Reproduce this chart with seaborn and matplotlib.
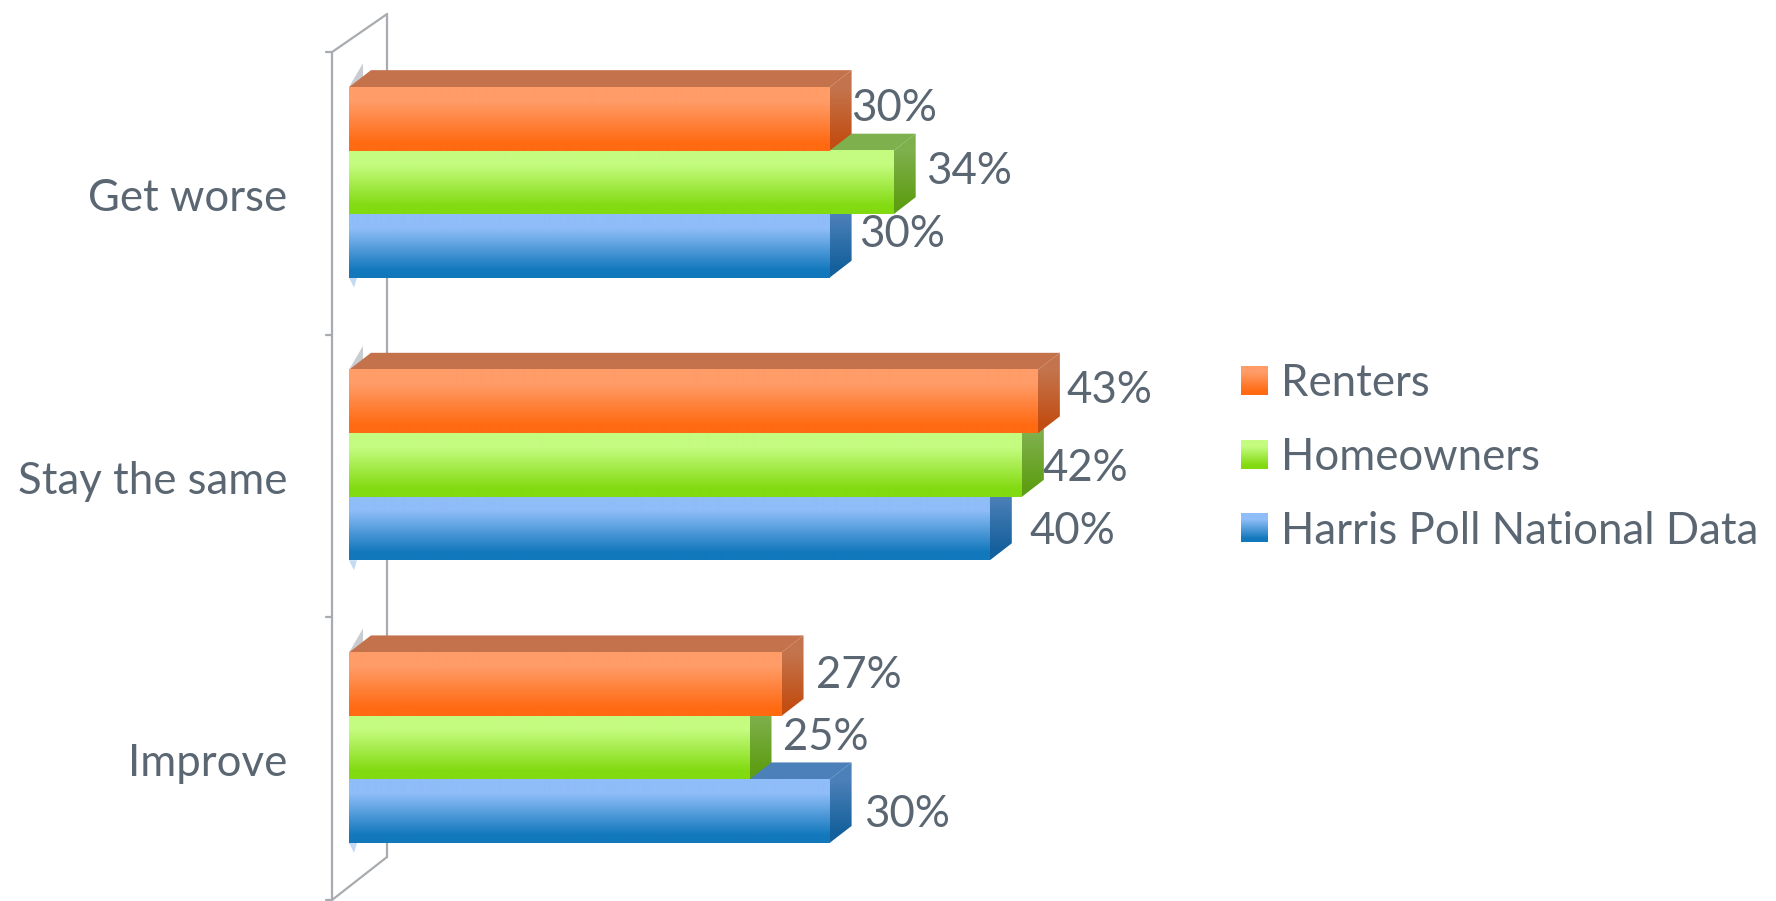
import matplotlib
matplotlib.use("Agg")
import numpy as np
import pandas as pd
import seaborn as sns
import matplotlib.pyplot as plt
from matplotlib.patches import Polygon
from matplotlib.lines import Line2D
from matplotlib.colors import LinearSegmentedColormap
from matplotlib.transforms import IdentityTransform, ScaledTranslation

categories = ["Get worse", "Stay the same", "Improve"]
series = ["Renters", "Homeowners", "Harris Poll National Data"]
renters = [30, 43, 27]
homeowners = [34, 42, 25]
harris = [30, 40, 30]

# styling
front_grad = {"Renters": ("#FF9C68", "#FF6A12"),
              "Homeowners": ("#C4FC80", "#82DA10"),
              "Harris Poll National Data": ("#8FBDF8", "#1278BC")}
side_grad = {"Renters": ("#C4744C", "#C24E14"),
             "Homeowners": ("#7EB04C", "#5F9E14"),
             "Harris Poll National Data": ("#4C80B8", "#14609C")}
top_col = {"Renters": "#C4724C", "Homeowners": "#7FB04E", "Harris Poll National Data": "#4C80BA"}
# label offsets from bar end / bar centre in pixels, per series then category
lab_dx = {"Renters": [21, 29, 34], "Homeowners": [32, 21, 33], "Harris Poll National Data": [29, 40, 34]}
lab_dy = {"Renters": [10, 11, 9], "Homeowners": [11, -3, 10], "Harris Poll National Data": [11, -3, -3]}
TXT = "#5A6672"
FS = 31.5
FONT = "Lato"
DX, DY = 22, 17

W, H = 1776, 901
sns.set_theme(style="white")
plt.rcParams["font.family"] = [FONT, "DejaVu Sans"]

fig = plt.figure(figsize=(W / 100, H / 100), dpi=100, facecolor="white")
ax_left, ax_right = 349, 1150
ax_top, ax_bottom = 41.1, 889.0
ax = fig.add_axes([ax_left / W, 1 - ax_bottom / H, (ax_right - ax_left) / W, (ax_bottom - ax_top) / H])

df = pd.DataFrame({
    "outlook": categories * 3,
    "group": sum([[s] * 3 for s in series], []),
    "pct": renters + homeowners + harris,
})
palette = {s: front_grad[s][1] for s in series}
sns.barplot(data=df, y="outlook", x="pct", hue="group", order=categories, hue_order=series,
            palette=palette, width=0.674, orient="h", saturation=1, ax=ax)
xlim = (0, 50)
ylim = (2.5, -0.5)
ax.set_xlim(*xlim)
ax.set_ylim(*ylim)
ax.set_xlabel("")
ax.set_ylabel("")
ax.set_xticks([])
for sp in ax.spines.values():
    sp.set_visible(False)
ax.patch.set_alpha(0)


def grad_cmap(c):
    return LinearSegmentedColormap.from_list("g", [(0, c[0]), (0.22, c[0]), (0.88, c[1]), (1, c[1])])


GRAD = np.linspace(0, 1, 128).reshape(-1, 1)
ident = IdentityTransform()


def paint(cmap, box, z, clip=None):
    im = ax.imshow(GRAD, cmap=cmap, extent=box, origin="upper", aspect="auto",
                   transform=ident, zorder=z, interpolation="bilinear")
    if clip is not None:
        im.set_clip_path(clip)
    return im


order_z = {"Harris Poll National Data": 3, "Homeowners": 4, "Renters": 5}
for cont, s in zip(ax.containers, series):
    z = order_z[s]
    for i, bar in enumerate(cont):
        (x0, y0), (x1, y1) = ax.transData.transform(
            [(bar.get_x(), bar.get_y() + bar.get_height()), (bar.get_x() + bar.get_width(), bar.get_y())])
        bar.set_zorder(z + 0.3)
        bar.set_edgecolor("none")
        bar.set_linewidth(0)
        top = Polygon([(x0, y1), (x0 + DX, y1 + DY), (x1 + DX, y1 + DY), (x1, y1)],
                      closed=True, fc=top_col[s], ec="none", transform=ident, zorder=z)
        ax.add_patch(top)
        side = Polygon([(x1, y1), (x1 + DX, y1 + DY), (x1 + DX, y0 + DY), (x1, y0)],
                       closed=True, fc="none", ec="none", transform=ident, zorder=z)
        ax.add_patch(side)
        paint(grad_cmap(side_grad[s]), (x1, x1 + DX, y0, y1 + DY), z + 0.1, side)
        paint(grad_cmap(front_grad[s]), (x0, x1, y0, y1), z + 0.5)
        ax.text(x1 + lab_dx[s][i], (y0 + y1) / 2 + lab_dy[s][i], f"{int(bar.get_width())}%",
                transform=ident, ha="left", va="center", fontsize=FS, color=TXT, zorder=9)
ax.set_xlim(*xlim)
ax.set_ylim(*ylim)

# chart wall: front edge, back edge, top and floor, derived from the category axis
WALL = "#A8ACB0"
px_front = ax_left - 17
px_back = ax_left + 38
off = 11
edges = ax.transData.transform([(0, v) for v in (-0.5, 0.5, 1.5, 2.5)])[:, 1] - off
yt, yb = edges[0], edges[-1]
for seg in ([(px_front, px_front), (yb, yt)],
            [(px_back, px_back), (yb + 43, yt + 38)],
            [(px_front, px_back), (yt, yt + 38)],
            [(px_front, px_back), (yb, yb + 43)]):
    fig.add_artist(Line2D(seg[0], seg[1], color=WALL, lw=1.6, transform=ident, zorder=0))
for y in edges:
    fig.add_artist(Line2D([px_front - 6, px_front], [y, y], color=WALL, lw=1.6, transform=ident, zorder=0))

# small wedges where the bars meet the wall
for i in range(3):
    c = ax.containers[0][i]
    d = ax.containers[2][i]
    x0, ytop = ax.transData.transform((0, c.get_y()))
    _, ybot = ax.transData.transform((0, d.get_y() + d.get_height()))
    ax.add_patch(Polygon([(x0, ytop), (x0 + 14, ytop + 24), (x0 + 14, ytop + 5)], closed=True,
                         fc="#C9CDD2", ec="none", transform=ident, zorder=2))
    ax.add_patch(Polygon([(x0, ybot), (x0 + 8, ybot), (x0 + 5, ybot - 10)], closed=True,
                         fc="#C4DAF2", ec="none", transform=ident, zorder=2))

# category labels
ax.tick_params(axis="y", length=0, pad=44.6, labelsize=FS, labelcolor=TXT)
shift = ScaledTranslation(0, -12 / 100, fig.dpi_scale_trans)
for t in ax.get_yticklabels():
    t.set_transform(t.get_transform() + shift)

# legend
handles, labels = ax.get_legend_handles_labels()
fs_px = FS * 100 / 72
leg = ax.legend(handles, labels, loc="upper left", bbox_to_anchor=(1241 / W, 1 - 363 / H),
                bbox_transform=fig.transFigure, frameon=False, fontsize=FS, labelcolor=TXT,
                handlelength=27 / fs_px, handleheight=27 / fs_px, handletextpad=13 / fs_px,
                labelspacing=0.75, borderpad=0, borderaxespad=0)
fig.canvas.draw()
for p, s in zip(leg.get_patches(), series):
    p.set_edgecolor("none")
    b = p.get_window_extent()
    im = paint(grad_cmap(front_grad[s]), (b.x0, b.x1, b.y0, b.y1), 7)
    im.set_clip_on(False)
ax.set_xlim(*xlim)
ax.set_ylim(*ylim)

fig.savefig("out.png", dpi=100, facecolor="white")
